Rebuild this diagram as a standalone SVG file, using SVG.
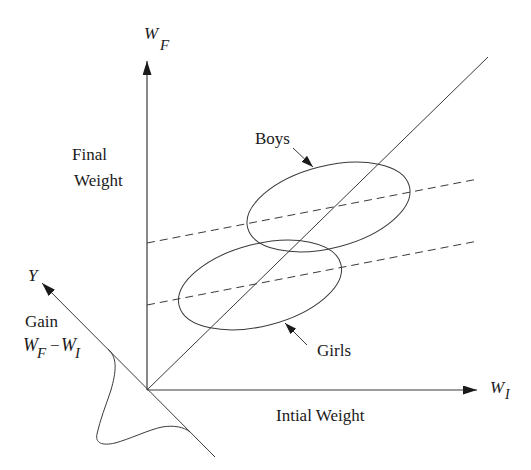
<svg xmlns="http://www.w3.org/2000/svg" width="531" height="470" viewBox="0 0 531 470">
<defs>
<style>
.ln{stroke:#3a3a3a;stroke-width:1;fill:none}
.ax{stroke:#3a3a3a;stroke-width:1.2;fill:none}
.ds{stroke:#3a3a3a;stroke-width:1;fill:none;stroke-dasharray:8 5}
.t{font-family:"Liberation Serif","Times New Roman",serif;font-size:17px;fill:#1a1a1a}
.m{font-family:"Liberation Serif","Times New Roman",serif;font-style:italic;fill:#1a1a1a}
</style>
<marker id="big" markerUnits="userSpaceOnUse" markerWidth="15" markerHeight="10" refX="14" refY="4.5" orient="auto">
<path d="M0,0 L14,4.5 L0,9 z" fill="#1a1a1a"/>
</marker>
<marker id="sm" markerUnits="userSpaceOnUse" markerWidth="13" markerHeight="9" refX="12" refY="4" orient="auto">
<path d="M0,0 L12,4 L0,8 z" fill="#1a1a1a"/>
</marker>
</defs>
<rect width="531" height="470" fill="#fff"/>
<g id="connectors">
<line class="ax" x1="147" y1="390" x2="147" y2="61" marker-end="url(#big)"/>
<line class="ax" x1="147" y1="390" x2="477" y2="390" marker-end="url(#big)"/>
<line class="ln" x1="215" y1="457" x2="42" y2="283" marker-end="url(#big)"/>
<line class="ln" x1="147" y1="390" x2="488" y2="57"/>
<line class="ds" x1="147" y1="243" x2="478" y2="179"/>
<line class="ds" x1="147" y1="305" x2="478" y2="241"/>
<path class="ln" d="M108,349 C118,358 116,372 111,390 C106,405 100,420 97,434 C95,443 102,446 115,443 C130,439 148,430 162,427 C174,425 184,427 190,432"/>
<line class="ln" x1="293" y1="148" x2="313" y2="167" marker-end="url(#sm)"/>
<line class="ln" x1="307" y1="345" x2="285" y2="323" marker-end="url(#sm)"/>
</g>
<g id="boys">
<ellipse class="ln" cx="328.5" cy="207" rx="83.5" ry="41" transform="rotate(-14.5 328.5 207)"/>
<text class="t" x="255" y="144">Boys</text>
</g>
<g id="girls">
<ellipse class="ln" cx="260" cy="285" rx="83.5" ry="41" transform="rotate(-14.5 260 285)"/>
<text class="t" x="317" y="356">Girls</text>
</g>
<g id="wf-label">
<text class="m" x="144" y="39" font-size="17">W</text>
<text class="m" x="160" y="50" font-size="15">F</text>
</g>
<g id="wi-label">
<text class="m" x="490" y="393" font-size="17">W</text>
<text class="m" x="505" y="399" font-size="14">I</text>
</g>
<g id="y-label">
<text class="m" x="28" y="281" font-size="17">Y</text>
</g>
<g id="final-weight">
<text class="t" x="72" y="160">Final</text>
<text class="t" x="74" y="186">Weight</text>
</g>
<g id="gain">
<text class="t" x="25" y="327">Gain</text>
<text class="m" x="23" y="351" font-size="18">W</text>
<text class="m" x="37" y="358" font-size="15">F</text>
<text class="t" x="50" y="351" font-size="18">−</text>
<text class="m" x="61" y="351" font-size="18">W</text>
<text class="m" x="75" y="358" font-size="15">I</text>
</g>
<g id="initial-weight">
<text class="t" x="276" y="421">Intial Weight</text>
</g>
</svg>
